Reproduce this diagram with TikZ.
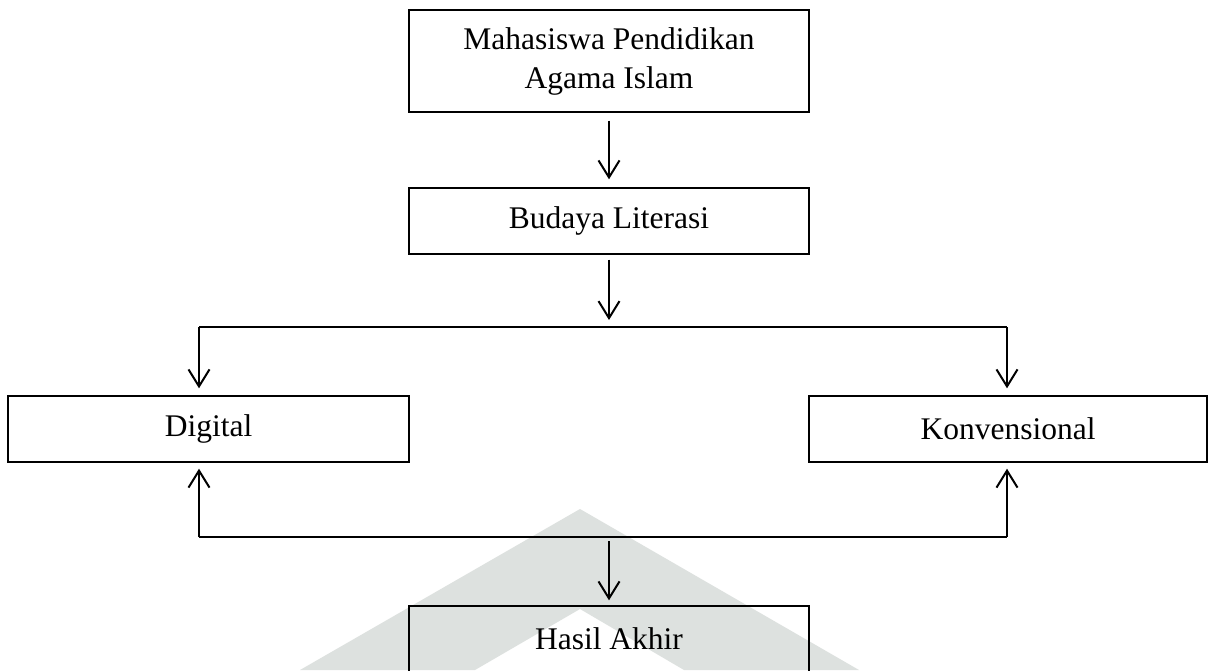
\documentclass[tikz,border=0pt]{standalone}
\usepackage{fontspec}
\setmainfont{Liberation Serif}
\usetikzlibrary{arrows.meta,calc}
\definecolor{wm}{RGB}{221,225,223}
\begin{document}
\begin{tikzpicture}[x=1pt,y=-1pt,
  box/.style={draw=black,line width=1.4pt,rectangle,minimum width=400pt,minimum height=66pt,inner sep=0pt,align=center,font=\fontsize{31.5}{39}\selectfont},
  conn/.style={line width=2pt,black},
  arr/.style={conn,-{Straight Barb[length=17pt,width=21pt,line width=2pt]}}]
\clip (0,0) rectangle (1209,670);
\fill[white] (0,0) rectangle (1209,670);
% watermark
\fill[wm] (580,509) -- (300,670) -- (475,670) -- (580,609) -- (684,670) -- (859,670) -- cycle;
% nodes
\node[box,minimum height=102pt] (mpai) at (609,61) {Mahasiswa Pendidikan\\Agama Islam};
\node[box] (bl) at (609,221) {Budaya Literasi};
\node[box,minimum width=401pt] (dig) at (208.5,429) {Digital};
\node[box,minimum width=398pt] (kon) at (1008,429) {Konvensional};
\node[box] (hasil) at (609,639) {Hasil Akhir};
% junction coordinates
\coordinate (tl) at (199,327);
\coordinate (tr) at (1007,327);
\coordinate (tm) at (609,327);
\coordinate (bL) at (199,537);
\coordinate (bR) at (1007,537);
\coordinate (bm) at (609,537);
% connectors
\draw[arr,shorten <=8pt,shorten >=8pt] (mpai.south) -- (bl.north);
\draw[arr,shorten <=5pt,shorten >=7pt] (bl.south) -- (tm);
\draw[conn] (tl) -- (tr);
\draw[arr,shorten >=7pt] (tl) -- (tl |- dig.north);
\draw[arr,shorten >=7pt] (tr) -- (tr |- kon.north);
\draw[conn] (bL) -- (bR);
\draw[arr,shorten >=6pt] (bL) -- (bL |- dig.south);
\draw[arr,shorten >=6pt] (bR) -- (bR |- kon.south);
\draw[arr,shorten <=4pt,shorten >=5pt] (bm) -- (hasil.north);
\end{tikzpicture}
\end{document}
